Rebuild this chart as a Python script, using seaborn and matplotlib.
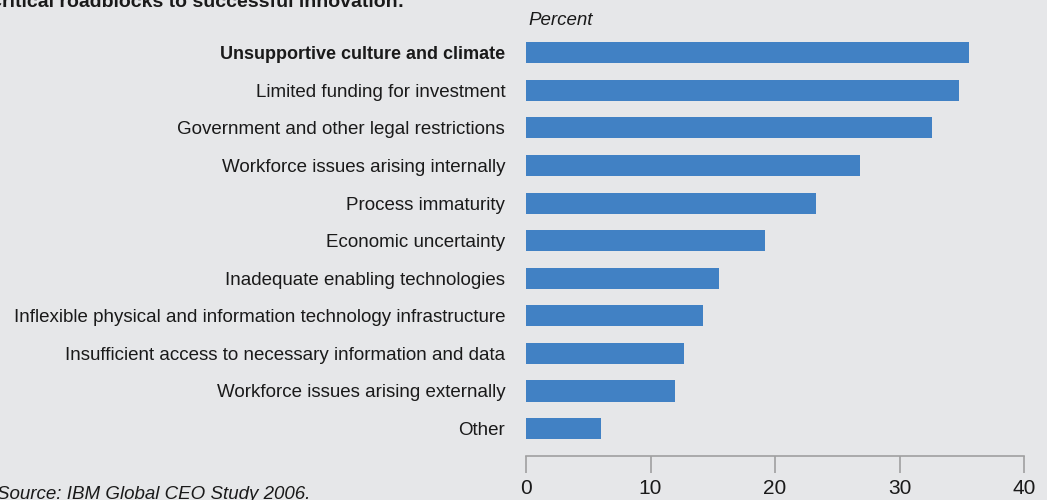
import matplotlib
matplotlib.use("Agg")
import matplotlib.pyplot as plt
import seaborn as sns
import pandas as pd
from matplotlib import font_manager

categories = [
    "Unsupportive culture and climate",
    "Limited funding for investment",
    "Government and other legal restrictions",
    "Workforce issues arising internally",
    "Process immaturity",
    "Economic uncertainty",
    "Inadequate enabling technologies",
    "Inflexible physical and information technology infrastructure",
    "Insufficient access to necessary information and data",
    "Workforce issues arising externally",
    "Other",
]
values = [35.6, 34.8, 32.6, 26.8, 23.3, 19.2, 15.5, 14.2, 12.7, 12.0, 6.0]
xticks = [0, 10, 20, 30, 40]

sns.set_theme(style="white")
names = {f.name for f in font_manager.fontManager.ttflist}
fam = "Liberation Sans Narrow" if "Liberation Sans Narrow" in names else "Liberation Sans"
plt.rcParams["font.family"] = [fam, "DejaVu Sans"]

bg = "#e6e7e9"
bar_color = "#4181c4"
df = pd.DataFrame({"cat": categories, "val": values})

fig = plt.figure(figsize=(10.47, 5), dpi=100, facecolor=bg)
ax = fig.add_axes([526/1047, 1 - 456/500, (1024-526)/1047, (456-22)/500])
ax.set_facecolor(bg)
sns.barplot(data=df, x="val", y="cat", orient="h", color=bar_color,
            width=0.56, saturation=1, edgecolor="none", linewidth=0, ax=ax)
ax.set_xlim(0, 40)
ax.set_ylim(10.73, -0.82)
ax.set_xticks(xticks)
ax.set_xlabel("")
ax.set_ylabel("")
for s in ["top", "right", "left"]:
    ax.spines[s].set_visible(False)
ax.spines["bottom"].set_color("#a0a0a0")
ax.spines["bottom"].set_linewidth(1.2)
ax.tick_params(axis="x", bottom=True, direction="out", length=12.5, width=1.2,
               color="#a0a0a0", labelsize=15, labelcolor="#1a1a1a", pad=4)
ax.tick_params(axis="y", left=False, length=0, labelsize=13.5, labelcolor="#1a1a1a", pad=15)
for i, lab in enumerate(ax.get_yticklabels()):
    if i == 0:
        lab.set_fontweight("bold")
        lab.set_fontsize(13)

fig.text(528/1047, 1 - 25/500, "Percent", fontsize=13.5, style="italic",
         color="#1a1a1a", va="baseline", ha="left")
fig.text(-12/1047, 1 - 7/500, "Critical roadblocks to successful innovation:",
         fontsize=14, fontweight="bold", color="#1a1a1a", va="baseline", ha="left")
fig.text(-3/1047, 1 - 499/500, "Source: IBM Global CEO Study 2006.",
         fontsize=13.5, style="italic", color="#1a1a1a", va="baseline", ha="left")

fig.savefig("out.png", dpi=100, facecolor=bg)
